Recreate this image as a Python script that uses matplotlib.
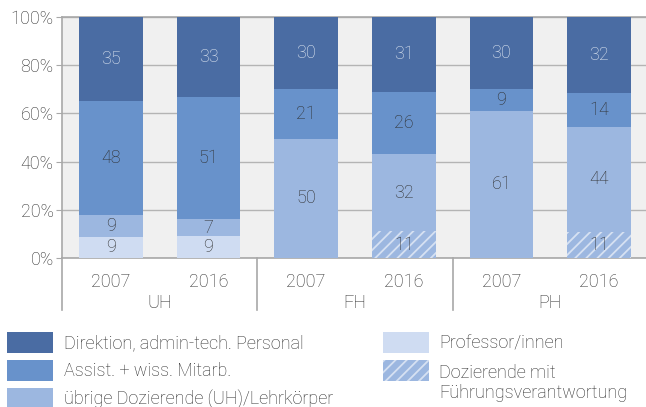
import matplotlib.pyplot as plt
from matplotlib.patches import Rectangle
import numpy as np

plt.rcParams['font.family'] = ['Roboto', 'DejaVu Sans']
plt.rcParams['hatch.linewidth'] = 1.3

years = ['2007', '2016', '2007', '2016', '2007', '2016']
groups = ['UH', 'FH', 'PH']

# stacked from bottom to top
fuehrung = [0, 0, 0, 11, 0, 11]
prof = [9, 9, 0, 0, 0, 0]
uebrige = [9, 7, 50, 32, 61, 44]
assist = [48, 51, 21, 26, 9, 14]
direktion = [35, 33, 30, 31, 30, 32]

legend_labels = ['Direktion, admin-tech. Personal', 'Assist. + wiss. Mitarb.',
                 'übrige Dozierende (UH)/Lehrkörper', 'Professor/innen',
                 'Dozierende mit\nFührungsverantwortung']

c_dir = '#4a6ca3'
c_ass = '#6892cb'
c_ueb = '#9cb7e0'
c_prof = '#cfdcf2'
hatch_col = '#d6e1f2'
txt = '#2e2e2e'
fs = 13

fig = plt.figure(figsize=(6.46, 4.07), dpi=100)
ax = fig.add_axes([62 / 646, (407 - 258) / 407, 586 / 646, 241 / 407])
ax.set_facecolor('#f0f0f0')

x = np.arange(len(years))
w = 0.655
series = [(fuehrung, c_ueb, True, txt), (prof, c_prof, False, txt),
          (uebrige, c_ueb, False, txt), (assist, c_ass, False, txt),
          (direktion, c_dir, False, '#e6ecf5')]
totals = np.sum([s[0] for s in series], axis=0)
bottom = np.zeros(len(years))
for vals, col, hatched, tc in series:
    v = np.array(vals, dtype=float)
    h = v / totals * 100
    if hatched:
        ax.bar(x, h, w, bottom=bottom, color=col, edgecolor=hatch_col, hatch='///', linewidth=0, zorder=3)
    else:
        ax.bar(x, h, w, bottom=bottom, color=col, linewidth=0, zorder=3)
    for i in range(len(years)):
        if v[i] > 0:
            ax.text(x[i], bottom[i] + h[i] / 2, str(int(v[i])), ha='center', va='center',
                    fontsize=fs, color=tc, fontweight='light', zorder=4)
    bottom += h

ax.set_xlim(-0.5, 5.5)
ax.set_ylim(0, 100)
ax.set_yticks(range(0, 101, 20))
ax.set_yticklabels([f'{t}%' for t in range(0, 101, 20)], fontsize=fs, color=txt, fontweight='light')
ax.yaxis.grid(True, color='#b4b4b4', linewidth=1.0, zorder=1)
ax.set_axisbelow(True)
ax.tick_params(axis='y', length=4, color='#a8a8a8', pad=2)
ax.set_xticks(x)
ax.set_xticklabels(years, fontsize=fs, color=txt, fontweight='light')
ax.tick_params(axis='x', length=0, pad=11)
ax.spines['right'].set_visible(False)
for s in ['left', 'bottom', 'top']:
    ax.spines[s].set_color('#a8a8a8')
    ax.spines[s].set_linewidth(1.2)

trans = ax.get_xaxis_transform()
for sx in [-0.5, 1.5, 3.5]:
    ax.plot([sx, sx], [0, -52 / 241], transform=trans, color='#a8a8a8', lw=1.2, clip_on=False)
for gi, g in enumerate(groups):
    ax.text(2 * gi + 0.5, -45 / 241, g, transform=trans, ha='center', va='center',
            fontsize=fs, color=txt, fontweight='light')


# legend
def leg_patch(x0, y0, col, hatched=False):
    r = Rectangle((x0 / 646, (407 - y0 - 21) / 407), 46 / 646, 21 / 407, transform=fig.transFigure,
                  facecolor=col, edgecolor=hatch_col if hatched else 'none', lw=0,
                  hatch='///' if hatched else None)
    fig.patches.append(r)


rows = [332, 360, 388]
cols1 = [c_dir, c_ass, c_ueb]
for i in range(3):
    leg_patch(7, rows[i], cols1[i])
    fig.text(64 / 646, (407 - rows[i] - 11) / 407, legend_labels[i], ha='left', va='center',
             fontsize=fs, color=txt, fontweight='light')
leg_patch(383, 332, c_prof)
fig.text(439 / 646, (407 - 343) / 407, legend_labels[3], ha='left', va='center',
         fontsize=fs, color=txt, fontweight='light')
leg_patch(383, 360, c_ueb, hatched=True)
fig.text(439 / 646, (407 - 383) / 407, legend_labels[4], ha='left', va='center',
         fontsize=fs, color=txt, fontweight='light', linespacing=1.2)

fig.savefig('out.png', dpi=100)
